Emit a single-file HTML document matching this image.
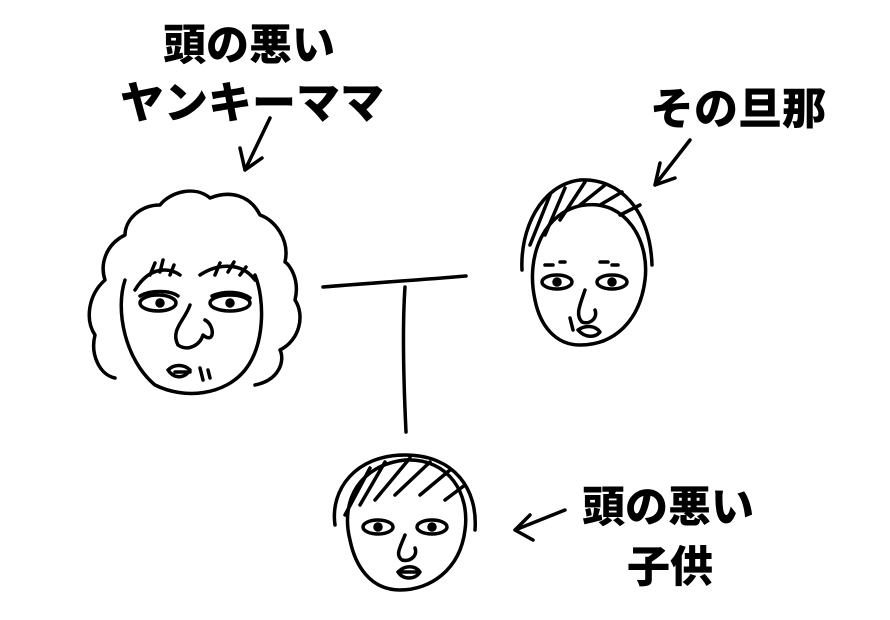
<!DOCTYPE html>
<html><head><meta charset="utf-8"><style>
html,body{margin:0;padding:0;background:#fff;}
svg{display:block}
text{font-family:"Liberation Sans","Noto Sans CJK JP",sans-serif;font-weight:900;fill:#000}
</style></head><body>
<svg width="890" height="620" viewBox="0 0 890 620" xmlns="http://www.w3.org/2000/svg">
<g fill="none" stroke="#000" stroke-width="3.5" stroke-linecap="round" stroke-linejoin="round">
<path d="M255,385 C280,380 285,360 280,350 C300,340 305,315 295,300 C300,280 290,265 285,262 C290,240 275,220 260,215 C250,195 230,190 210,198 C195,185 170,192 160,205 C140,205 125,220 125,235 C105,245 100,265 105,280 C88,295 85,320 95,335 C90,355 100,375 115,378"/>
<path d="M125,280 C115,310 125,360 155,385 C185,400 225,395 245,370 C265,345 265,300 255,275"/>
<path d="M135,290 C150,265 170,268 180,275 M200,275 C215,265 240,260 255,280"/>
<path d="M150,275 l5,-12 M160,272 l3,-12 M170,275 l4,-10 M215,275 l5,-12 M228,272 l6,-10 M240,275 l6,-8"/>
<ellipse cx="158" cy="303" rx="18" ry="8"/><circle cx="160" cy="303" r="3" fill="#000"/>
<ellipse cx="230" cy="303" rx="20" ry="8"/><circle cx="230" cy="303" r="3" fill="#000"/>
<path d="M140,296 C150,290 170,290 178,296 M212,296 C225,290 242,292 250,298"/>
<path d="M190,305 C185,320 170,330 178,345 C188,352 200,345 203,335 C215,345 215,325 205,320"/>
<path d="M168,370 C175,363 185,365 190,370 C185,378 175,380 168,370 M175,372 l15,0 M200,368 l3,12 M208,370 l2,8"/>
<path d="M535,300 C525,255 545,210 585,205 C625,200 650,240 645,280 C640,320 615,345 580,345 C555,345 540,325 535,300"/>
<path d="M522,270 C520,230 540,185 580,180 C620,178 650,210 652,265"/>
<path d="M530,245 L550,195 M545,235 L565,188 M560,220 L585,182 M580,205 L605,185 M600,205 L622,192 M620,215 L640,205"/>
<ellipse cx="557" cy="282" rx="15" ry="7"/><circle cx="557" cy="282" r="3" fill="#000"/>
<ellipse cx="612" cy="282" rx="15" ry="7"/><circle cx="612" cy="282" r="3" fill="#000"/>
<path d="M545,265 l8,0 M560,262 l5,0 M600,262 l8,0 M612,265 l6,0"/>
<path d="M585,290 C580,305 575,315 582,322 C590,325 598,318 595,310"/>
<path d="M578,330 C585,325 595,325 600,332 C595,338 585,338 578,330 M570,318 l3,12"/>
<path d="M350,540 C340,500 360,465 405,460 C450,458 470,495 465,530 C460,570 430,590 400,590 C370,590 355,565 350,540"/>
<path d="M335,525 C330,490 355,455 405,455 C455,455 478,490 475,530"/>
<path d="M345,515 L370,468 M360,505 L385,462 M375,500 L410,458 M395,495 L430,462 M420,495 L450,470 M445,500 L465,485"/>
<ellipse cx="378" cy="527" rx="15" ry="7"/><circle cx="378" cy="527" r="3" fill="#000"/>
<ellipse cx="432" cy="527" rx="15" ry="7"/><circle cx="432" cy="527" r="3" fill="#000"/>
<path d="M405,535 C400,548 395,555 402,560 C410,562 418,556 415,548"/>
<path d="M398,572 C405,565 415,565 420,572 C415,580 403,580 398,572 M400,572 l18,0"/>
<path d="M323,287 C370,283 420,280 466,276"/>
<path d="M405,287 C402,330 404,390 406,432"/>
<path d="M270,118 L245,170 M245,170 L240,148 M245,170 L262,158"/>
<path d="M690,140 L655,185 M655,185 L660,163 M655,185 L675,178"/>
<path d="M565,510 L515,530 M515,530 L530,515 M515,530 L533,540"/>
</g>
<text x="163" y="60" font-size="43">頭の悪い</text>
<text x="120" y="118" font-size="44">ヤンキーママ</text>
<text x="650" y="124" font-size="44">その旦那</text>
<text x="582" y="522" font-size="43">頭の悪い</text>
<text x="627" y="582" font-size="43">子供</text>
</svg>
</body></html>
